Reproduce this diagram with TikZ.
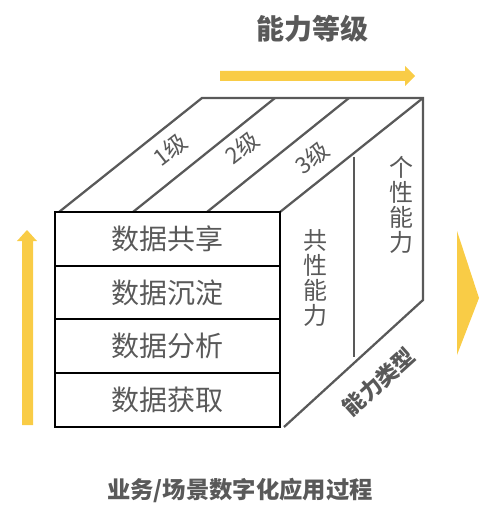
\documentclass[tikz,border=0pt]{standalone}
\usepackage{fontspec}
\setmainfont{Noto Sans CJK SC}
\definecolor{gy}{HTML}{595959}
\definecolor{yl}{HTML}{F9CC46}
\tikzset{
  cubeline/.style={draw=gy, line width=1.7pt},
  frontline/.style={draw=black, line width=1.6pt},
  rowtext/.style={text=gy, font=\fontsize{21}{21}\selectfont, inner sep=0pt},
  leveltext/.style={text=gy, font=\fontsize{17}{17}\selectfont, inner sep=0pt, rotate=38},
  verttext/.style={text=gy, font=\fontsize{18}{18.6}\selectfont, inner sep=0pt, align=center},
  titletext/.style={text=gy, font=\bfseries\fontsize{21}{21}\selectfont, inner sep=0pt},
  yarrow/.style={fill=yl, draw=none}
}
\begin{document}
\begin{tikzpicture}[x=0.75pt,y=-0.75pt]
\useasboundingbox (0,0) rectangle (494,520);
% cube corners
\coordinate (fTL) at (55,212);
\coordinate (fTR) at (280,212);
\coordinate (fBL) at (55,427);
\coordinate (fBR) at (280,427);
\coordinate (bTL) at (202,98);
\coordinate (bTR) at (423,98);
\coordinate (bBR) at (423,300);
\coordinate (t1) at (59,212);
\coordinate (t2) at (133,212);
\coordinate (t3) at (207,212);
\coordinate (u2) at (275,98);
\coordinate (u3) at (349,98);
\coordinate (fBR2) at (284,427);
\coordinate (mTop) at (354,157);
\coordinate (mBot) at (354,357);
% top face
\draw[cubeline] (t1) -- (bTL) -- (bTR) -- (bBR) -- (fBR2);
\draw[cubeline] (t2) -- (u2);
\draw[cubeline] (t3) -- (u3);
\draw[cubeline] (fTR) -- (bTR);
\draw[cubeline] (mTop) -- (mBot);
% front face
\coordinate (r1L) at (55,266);
\coordinate (r1R) at (280,266);
\coordinate (r2L) at (55,319);
\coordinate (r2R) at (280,319);
\coordinate (r3L) at (55,373);
\coordinate (r3R) at (280,373);
\draw[frontline] (fTL) rectangle (fBR);
\draw[frontline] (r1L) -- (r1R);
\draw[frontline] (r2L) -- (r2R);
\draw[frontline] (r3L) -- (r3R);
% row texts
\node[rowtext] (row1) at (167.5,239) {数据共享};
\node[rowtext] (row2) at (167.5,292.5) {数据沉淀};
\node[rowtext] (row3) at (167.5,346) {数据分析};
\node[rowtext] (row4) at (167.5,400) {数据获取};
% level texts
\node[leveltext] (lv1) at (170,150) {1级};
\node[leveltext] (lv2) at (242,148) {2级};
\node[leveltext] (lv3) at (312,158) {3级};
% vertical texts
\node[verttext] (gx) at (401,205) {个\\性\\能\\力};
\node[verttext] (gong) at (315,278) {共\\性\\能\\力};
% type label
\node[text=gy, font=\bfseries\fontsize{16.5}{16.5}\selectfont, inner sep=0pt, rotate=42] (lx) at (379,382) {能力类型};
% titles
\node[titletext] (title) at (312,29) {能力等级};
\node[text=gy, font=\bfseries\fontsize{17.5}{17.5}\selectfont, inner sep=0pt] (bottom) at (240,490) {业务/场景数字化应用过程};
% yellow arrows
\fill[yarrow] (220,71) -- (405,71) -- (405,66) -- (415,76) -- (405,86) -- (405,81) -- (220,81) -- cycle;
\fill[yarrow] (22,425) -- (22,241) -- (17,241) -- (27,230) -- (37,241) -- (33,241) -- (33,425) -- cycle;
\fill[yarrow] (457,231) -- (479,298) -- (457,355) -- cycle;
\end{tikzpicture}
\end{document}
